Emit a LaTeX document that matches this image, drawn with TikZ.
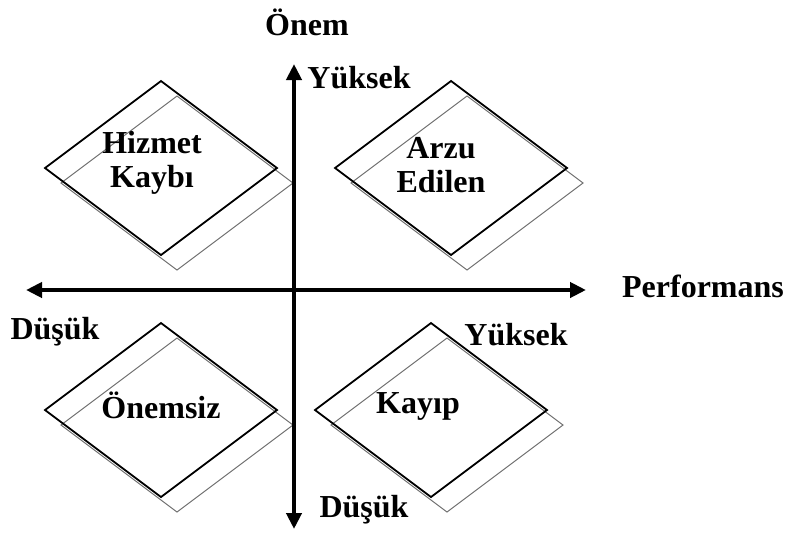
\documentclass[tikz,border=0pt]{standalone}
\usepackage{fontspec}
\setmainfont{Liberation Serif}
\usetikzlibrary{arrows.meta}
\tikzset{
  lbl/.style={font=\bfseries\fontsize{32}{34}\selectfont, inner sep=0pt, align=center},
  axis/.style={line width=4pt, {Triangle[length=16pt,width=15pt]}-{Triangle[length=16pt,width=15pt]}},
  front/.style={line width=1.8pt, draw=black},
  back/.style={line width=1pt, draw=black!55},
  pics/quad/.style={code={
    \draw[back] (-100,15) -- (16,-72) -- (132,15) -- (16,102) -- cycle;
    \draw[front] (-116,0) -- (0,-87) -- (116,0) -- (0,87) -- cycle;
  }}
}
\begin{document}
\begin{tikzpicture}[x=1pt,y=-1pt]
\useasboundingbox (0,0) rectangle (789,533);
% diamonds
\pic at (161,168) {quad};
\pic at (451,168) {quad};
\pic at (161,410) {quad};
\pic at (431,410) {quad};
% axes
\coordinate (vtop) at (294,64);
\coordinate (vbot) at (294,529);
\coordinate (hl) at (26,290);
\coordinate (hr) at (586,290);
\draw[axis] (vbot) -- (vtop);
\draw[axis] (hl) -- (hr);
% labels
\node[lbl] (onem) at (307,22) {Önem};
\node[lbl] (yuk1) at (359,78) {Yüksek};
\node[lbl] (perf) at (703,286) {Performans};
\node[lbl] (dus1) at (55,332) {Düşük};
\node[lbl] (yuk2) at (516,335) {Yüksek};
\node[lbl] (dus2) at (364,510) {Düşük};
\node[lbl] (hk) at (152,163) {Hizmet\\Kaybı};
\node[lbl] (ae) at (441,165) {Arzu\\Edilen};
\node[lbl] (on) at (161,405) {Önemsiz};
\node[lbl] (ka) at (418,406) {Kayıp};
\end{tikzpicture}
\end{document}
